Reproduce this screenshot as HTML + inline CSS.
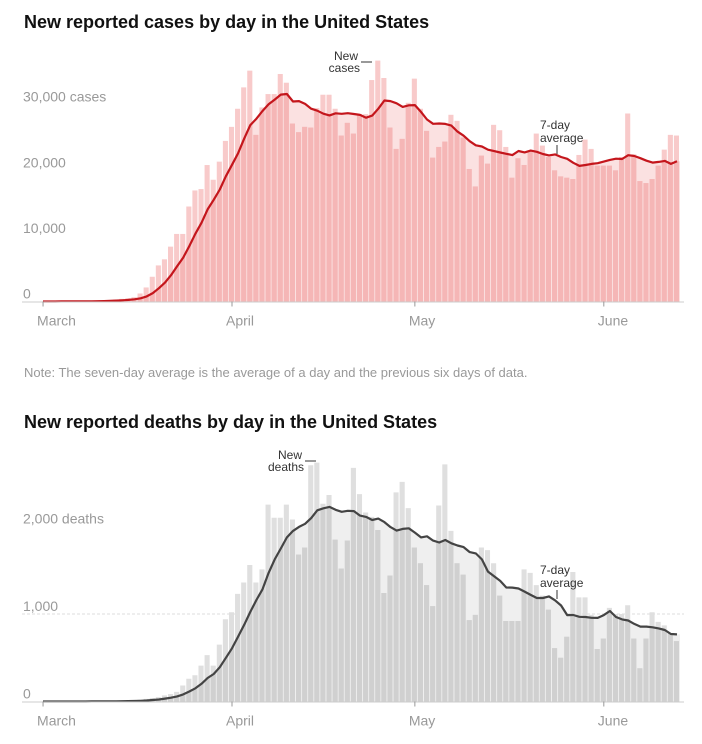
<!DOCTYPE html>
<html><head><meta charset="utf-8"><style>
html,body{margin:0;padding:0;background:#fff;}
svg{display:block;font-family:"Liberation Sans",Arial,sans-serif;}
</style></head>
<body>
<svg id="root" width="702" height="744" viewBox="0 0 702 744">
<defs>
<clipPath id="clipCases"><path id="clipCasesPath" d=""/></clipPath>
<clipPath id="clipDeaths"><path id="clipDeathsPath" d=""/></clipPath>
</defs>
<text x="24" y="28" font-size="18" font-weight="bold" fill="#111">New reported cases by day in the United States</text>
<g id="casesG"></g>
<text x="24" y="377" font-size="13" fill="#999">Note: The seven-day average is the average of a day and the previous six days of data.</text>
<text x="24" y="428" font-size="18" font-weight="bold" fill="#111">New reported deaths by day in the United States</text>
<g id="deathsG"></g>
</svg>
<script>
const months = ["March","April","May","June"];
const monthIdx = [0,31,61,92];
const casesTicks = [0,10000,20000,30000];
const casesTickLabels = ["0","10,000","20,000","30,000 cases"];
const casesGrid = [];
const deathsTicks = [0,1000,2000];
const deathsTickLabels = ["0","1,000","2,000 deaths"];
const deathsGrid = [1000];
const casesValues = [2,5,10,15,20,30,40,60,80,100,150,200,300,400,500,
650,1220,2140,3770,5500,6430,8360,10300,10300,14480,16930,17140,20800,18560,21320,24480,26620,29380,32640,35190,25400,29580,31620,31620,34680,33350,27130,25810,26620,26520,29480,31520,31520,29380,25300,27230,25600,28560,28560,33760,36720,34070,26520,23260,24790,
30290,33970,29380,26010,21930,23560,24380,28460,27540,24990,20200,17540,22240,21010,26930,26110,23560,18870,21830,20810,22950,25600,23770,22030,19990,19070,18870,18670,22340,24680,23260,20710,20710,20710,19990,22030,28660,22440,18360,18050,18670,20710,23150,25400,25300];
const deathsValues = [0,0,0,0,0,1,1,1,2,2,3,4,5,6,8,
10,20,30,40,50,70,85,110,183,260,300,410,530,410,650,940,1020,1230,1360,1560,1360,1510,2250,2100,2100,2250,2080,1680,1760,2700,2730,2260,2360,1850,1520,1840,2670,2370,2160,2110,1960,1240,1440,2390,2510,2210,
1760,1580,1330,1090,2240,2710,1950,1580,1450,930,990,1760,1730,1580,1210,920,920,920,1510,1470,1330,1210,1050,610,500,740,1480,1190,1190,990,600,720,1070,1000,1000,1100,720,380,720,1020,910,870,780,690];

const NS="http://www.w3.org/2000/svg";
function mk(tag,attrs,parent){const e=document.createElementNS(NS,tag);for(const k in attrs)e.setAttribute(k,attrs[k]);parent.appendChild(e);return e;}
function avg7(v){return v.map((_,i)=>{let s=0,n=0;for(let j=Math.max(0,i-6);j<=i;j++){s+=v[j];n++;}return s/n;});}

function draw(cfg){
  const g=document.getElementById(cfg.gid);
  const N=cfg.values.length, X0=40, X1=680, w=(X1-X0)/N;
  const x=i=>X0+i*w, xc=i=>X0+(i+0.5)*w, y=v=>cfg.y0-v*cfg.k;
  cfg.grid.forEach(t=>{
    const l=mk('line',{x1:22,x2:684,y1:y(t),y2:y(t),stroke:'#ddd','stroke-dasharray':'3,2'},g);
    
    
  });
  cfg.ticks.forEach((t,i)=>{
    const tx=mk('text',{x:23,y:y(t)-3,'font-size':14,fill:'#999'},g);
    tx.textContent=cfg.tickLabels[i];
    
    
  });
  const av=avg7(cfg.values);
  let pts=av.map((a,i)=>[xc(i),y(a)]);
  let area='M'+x(0)+','+cfg.y0+' L'+x(0)+','+pts[0][1]+' '+pts.map(p=>'L'+p[0].toFixed(1)+','+p[1].toFixed(1)).join(' ')+' L'+X1+','+pts[N-1][1]+' L'+X1+','+cfg.y0+' Z';
  const ar=mk('path',{d:area,fill:cfg.areaCol},g);
  
  
  document.getElementById(cfg.clipId+'Path').setAttribute('d',area);
  const bl=mk('g',{},g);
  
  
  const bd=mk('g',{'clip-path':'url(#'+cfg.clipId+')'},g);
  
  
  cfg.values.forEach((v,i)=>{
    const h=v*cfg.k;
    const r1=mk('rect',{x:x(i),y:cfg.y0-h,width:w-1,height:h,fill:cfg.barLight},bl);
    
    
    const r2=mk('rect',{x:x(i),y:cfg.y0-h,width:w-1,height:h,fill:cfg.barCol},bd);
    
    
  });
  const ln=mk('path',{d:'M'+pts.map(p=>p[0].toFixed(1)+','+p[1].toFixed(1)).join(' L'),fill:'none',stroke:cfg.lineCol,'stroke-width':2.2,'stroke-linejoin':'round'},g);
  
  
  const ax=mk('line',{x1:22,x2:684,y1:cfg.y0+0.5,y2:cfg.y0+0.5,stroke:'#ccc'},g);
  
  
  months.forEach((m,j)=>{
    const tx0=xc(monthIdx[j]);
    const t=mk('line',{x1:tx0,x2:tx0,y1:cfg.y0,y2:cfg.y0+5,stroke:'#999'},g);
    
    
    const lb=mk('text',{x:tx0-6,y:cfg.y0+24,'font-size':14,fill:'#999'},g);
    lb.textContent=m;
    
    
  });
  const a=cfg.ann;
  const t1=mk('text',{x:a.nx,y:a.ny,'font-size':12,fill:'#333','text-anchor':'end'},g);
  t1.innerHTML='<tspan x="'+(a.nx-2)+'">New</tspan><tspan x="'+a.nx+'" dy="12">'+cfg.newWord+'</tspan>';
  
  
  const d1=mk('line',{x1:a.nx+1,x2:a.nx+12,y1:a.ny+2,y2:a.ny+2,stroke:'#333'},g);
  
  
  const t2=mk('text',{x:540,y:a.ay,'font-size':12,fill:'#333'},g);
  t2.innerHTML='<tspan x="540">7-day</tspan><tspan x="540" dy="13">average</tspan>';
  
  
  const d2=mk('line',{x1:557,x2:557,y1:a.ay+16,y2:a.ay+25,stroke:'#333'},g);
  
  
}
draw({gid:'casesG',clipId:'clipCases',values:casesValues,ticks:casesTicks,tickLabels:casesTickLabels,grid:casesGrid,y0:301.5,k:0.00656,areaCol:'#fbe1e1',barLight:'#f8caca',barCol:'#f5b6b6',lineCol:'#c4161c',newWord:'cases',ann:{nx:360,ny:60,ay:129}});
draw({gid:'deathsG',clipId:'clipDeaths',values:deathsValues,ticks:deathsTicks,tickLabels:deathsTickLabels,grid:deathsGrid,y0:701.5,k:0.0875,areaCol:'#efefef',barLight:'#dfdfdf',barCol:'#d0d0d0',lineCol:'#444',newWord:'deaths',ann:{nx:304,ny:459,ay:574}});
</script>
</body></html>
